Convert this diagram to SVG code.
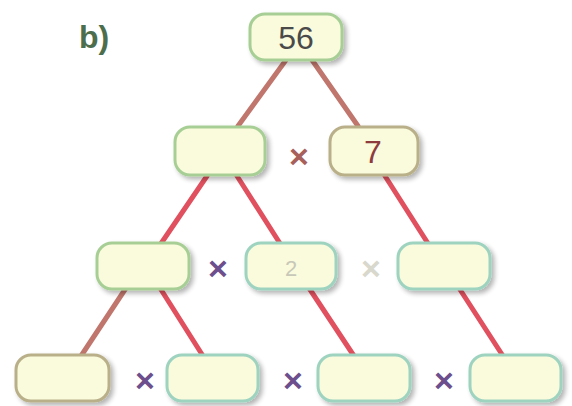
<svg xmlns="http://www.w3.org/2000/svg" width="572" height="406" viewBox="0 0 572 406">
<defs>
<filter id="sh" x="-20%" y="-20%" width="150%" height="160%">
<feGaussianBlur in="SourceAlpha" stdDeviation="2.5"/>
<feOffset dx="3" dy="3"/>
<feComponentTransfer><feFuncA type="linear" slope="0.3"/></feComponentTransfer>
<feMerge><feMergeNode/><feMergeNode in="SourceGraphic"/></feMerge>
</filter>
</defs>
<style>
.box{fill:#fafbdc;stroke:#a7cf95;stroke-width:3;filter:url(#sh)}
.bx2{fill:#fafbdc;stroke:#b9b08a;stroke-width:3;filter:url(#sh)}
.bx3{fill:#fafbdc;stroke:#9ed3c0;stroke-width:3;filter:url(#sh)}
.ln{stroke:#e0505e;stroke-width:5;stroke-linecap:round}
.lb{stroke:#c0766c;stroke-width:5;stroke-linecap:round}
.t{font-family:"Liberation Sans",Arial,sans-serif;text-anchor:middle}
.x{font-family:"Liberation Sans",Arial,sans-serif;font-size:34px;font-weight:bold;fill:#6c4f8c;text-anchor:middle}
</style>
<rect width="572" height="406" fill="#ffffff"/>
<text x="94" y="48" class="t" font-size="32" font-weight="bold" fill="#4d6e4d">b)</text>
<g id="connectors">
<line class="lb" x1="286" y1="60" x2="238" y2="126"/>
<line class="lb" x1="312" y1="60" x2="358" y2="126"/>
<line class="ln" x1="207" y1="176" x2="160" y2="245"/>
<line class="ln" x1="237" y1="176" x2="281" y2="245"/>
<line class="ln" x1="385" y1="176" x2="429" y2="245"/>
<line class="lb" x1="126" y1="288" x2="81" y2="356"/>
<line class="ln" x1="160" y1="288" x2="203" y2="356"/>
<line class="ln" x1="309" y1="288" x2="354" y2="356"/>
<line class="ln" x1="459" y1="288" x2="503" y2="356"/>
</g>
<g id="n56"><rect class="box" x="250" y="14" width="92" height="46" rx="15"/><text x="296" y="49" class="t" font-size="32" fill="#4a4a4a">56</text></g>
<g id="n2a"><rect class="box" x="175" y="127" width="90" height="48" rx="15"/></g>
<text x="299" y="168" class="x" style="fill:#a8605a">×</text>
<g id="n7"><rect class="bx2" x="330" y="127" width="88" height="48" rx="15"/><text x="373" y="163" class="t" font-size="32" fill="#8e3b3e">7</text></g>
<g id="n3a"><rect class="box" x="97" y="243" width="92" height="46" rx="15"/></g>
<text x="218" y="280" class="x">×</text>
<g id="n3b"><rect class="bx3" x="246" y="243" width="90" height="46" rx="15"/><text x="291" y="276" class="t" font-size="22" fill="#c8c8b8">2</text></g>
<text x="371" y="280" class="x" style="fill:#d8d8cc">×</text>
<g id="n3c"><rect class="bx3" x="398" y="243" width="92" height="46" rx="15"/></g>
<g id="n4a"><rect class="bx2" x="16" y="355" width="93" height="46" rx="15"/></g>
<text x="145" y="392" class="x">×</text>
<g id="n4b"><rect class="bx3" x="167" y="355" width="91" height="46" rx="15"/></g>
<text x="293" y="392" class="x">×</text>
<g id="n4c"><rect class="bx3" x="318" y="355" width="92" height="46" rx="15"/></g>
<text x="444" y="392" class="x">×</text>
<g id="n4d"><rect class="bx3" x="470" y="355" width="91" height="46" rx="15"/></g>
</svg>
